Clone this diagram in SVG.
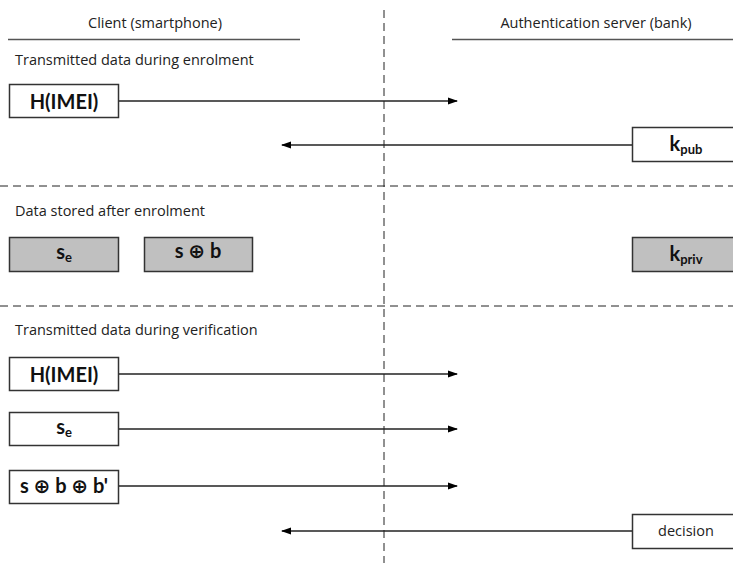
<svg xmlns="http://www.w3.org/2000/svg" width="733" height="563" viewBox="0 0 733 563">
<defs>
<marker id="ah" markerWidth="10" markerHeight="8" refX="9" refY="4" orient="auto" markerUnits="userSpaceOnUse">
<path d="M0,0.5 L10,4 L0,7.5 Z" fill="#000"/>
</marker>
<style>
.lbl{font-family:"Open Sans","Liberation Sans",sans-serif;font-size:14.5px;fill:#222}
.hdr{font-family:"Open Sans","Liberation Sans",sans-serif;font-size:14.5px;fill:#222;text-anchor:middle}
.box{fill:#fff;stroke:#333;stroke-width:1.5}
.gbox{fill:#c0c0c0;stroke:#333;stroke-width:1.5}
.bt{font-family:Lato,"DejaVu Sans",sans-serif;font-size:20px;font-weight:bold;fill:#111;text-anchor:middle}
.sub{font-size:13px}
.dt{font-family:"Open Sans","Liberation Sans",sans-serif;font-size:14.5px;fill:#222;text-anchor:middle}
.dash{stroke:#222;stroke-width:1;stroke-dasharray:8,5;fill:none}
.arr{stroke:#222;stroke-width:1.3;fill:none;marker-end:url(#ah)}
.rule{stroke:#555;stroke-width:1.3}
</style>
</defs>
<g id="headers">
<text class="hdr" x="155" y="28">Client (smartphone)</text>
<line class="rule" x1="8" y1="39.5" x2="300" y2="39.5"/>
<text class="hdr" x="596" y="28">Authentication server (bank)</text>
<line class="rule" x1="452" y1="39.5" x2="733" y2="39.5"/>
</g>
<g id="separators">
<line class="dash" x1="384" y1="10" x2="384" y2="563"/>
<line class="dash" x1="0" y1="186" x2="733" y2="186"/>
<line class="dash" x1="0" y1="306" x2="733" y2="306"/>
</g>
<g id="section-labels">
<text class="lbl" x="15" y="65">Transmitted data during enrolment</text>
<text class="lbl" x="15" y="216">Data stored after enrolment</text>
<text class="lbl" x="15" y="335">Transmitted data during verification</text>
</g>
<g id="connectors">
<line class="arr" x1="119" y1="101" x2="457" y2="101"/>
<line class="arr" x1="632" y1="145" x2="282" y2="145"/>
<line class="arr" x1="119" y1="374" x2="457" y2="374"/>
<line class="arr" x1="119" y1="429" x2="457" y2="429"/>
<line class="arr" x1="119" y1="486" x2="457" y2="486"/>
<line class="arr" x1="632" y1="531" x2="282" y2="531"/>
</g>
<g id="n-himei1">
<rect class="box" x="9.5" y="84.5" width="109" height="33"/>
<text class="bt" x="64" y="109">H(IMEI)</text>
</g>
<g id="n-kpub">
<rect class="box" x="632.5" y="127.5" width="102" height="34"/>
<text class="bt" x="686" y="151">k<tspan class="sub" dy="3">pub</tspan></text>
</g>
<g id="n-se-stored">
<rect class="gbox" x="9.5" y="237.5" width="109" height="34"/>
<text class="bt" x="64" y="259">s<tspan class="sub" dy="3">e</tspan></text>
</g>
<g id="n-sxorb">
<rect class="gbox" x="144.5" y="237.5" width="108" height="34"/>
<text class="bt" x="198" y="258">s ⊕ b</text>
</g>
<g id="n-kpriv">
<rect class="gbox" x="632.5" y="237.5" width="102" height="34"/>
<text class="bt" x="686" y="261">k<tspan class="sub" dy="3">priv</tspan></text>
</g>
<g id="n-himei2">
<rect class="box" x="9.5" y="357.5" width="109" height="33"/>
<text class="bt" x="64" y="382">H(IMEI)</text>
</g>
<g id="n-se-sent">
<rect class="box" x="9.5" y="412.5" width="109" height="33"/>
<text class="bt" x="64" y="434">s<tspan class="sub" dy="3">e</tspan></text>
</g>
<g id="n-sxorbxorb">
<rect class="box" x="9.5" y="470.5" width="109" height="33"/>
<text class="bt" x="64" y="493">s ⊕ b ⊕ b'</text>
</g>
<g id="n-decision">
<rect class="box" x="632.5" y="514.5" width="102" height="34"/>
<text class="dt" x="686" y="536">decision</text>
</g>
</svg>
